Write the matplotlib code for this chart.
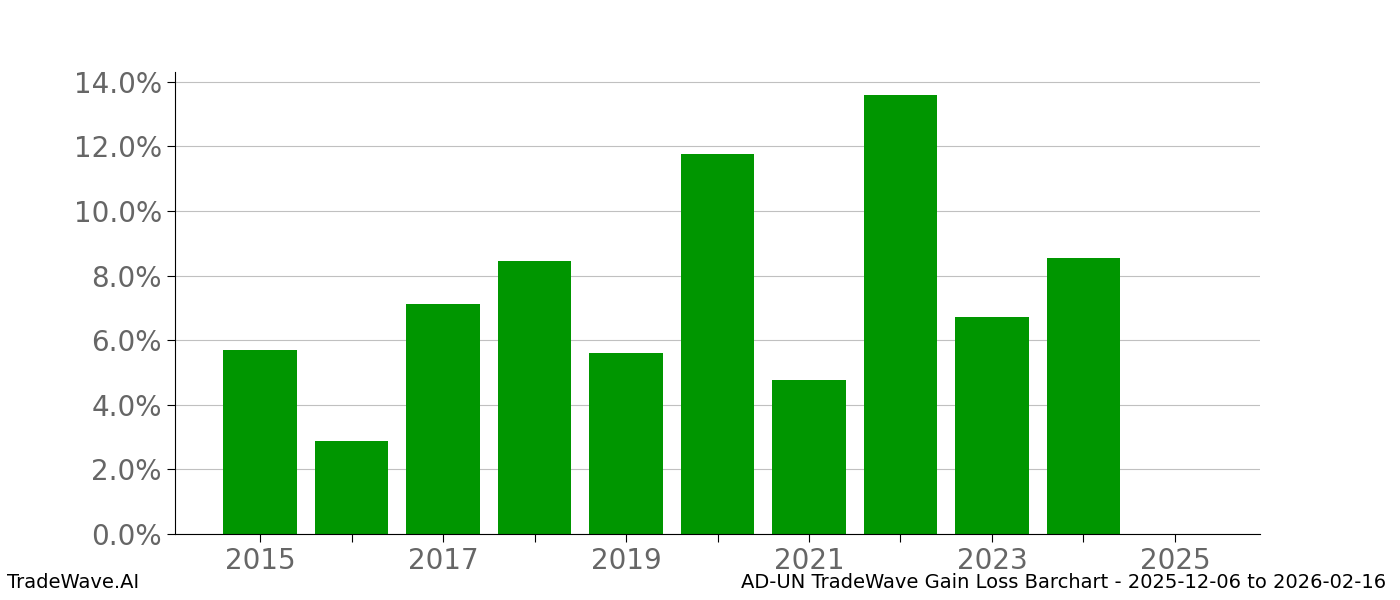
import matplotlib
matplotlib.use("Agg")
import matplotlib.pyplot as plt
from matplotlib.ticker import FuncFormatter, MultipleLocator

years = [2015, 2016, 2017, 2018, 2019, 2020, 2021, 2022, 2023, 2024, 2025]
gains = [5.69, 2.87, 7.11, 8.44, 5.59, 11.77, 4.76, 13.60, 6.71, 8.53, 0.0]

fig = plt.figure(figsize=(14, 6), dpi=100)
ax = fig.add_axes([0.125, 0.11, 0.775, 0.77])
ax.bar(years, gains, width=0.8, color="#009600", zorder=2)
ax.set_xlim(2014.07, 2025.93)
ax.set_ylim(0, 14.3)
ax.yaxis.set_major_locator(MultipleLocator(2))
ax.yaxis.set_major_formatter(FuncFormatter(lambda v, p: f"{v:.1f}%"))
ax.set_xticks(years)
ax.set_xticklabels([str(y) if (y - 2015) % 2 == 0 else "" for y in years])
ax.grid(axis="y", color="#c0c0c0", linewidth=0.8, zorder=0)
ax.tick_params(labelsize=20, labelcolor="#666666", length=6)
for s in ["top", "right"]:
    ax.spines[s].set_visible(False)
fig.text(0.005, 0.02, "TradeWave.AI", fontsize=14, ha="left")
fig.text(0.99, 0.02, "AD-UN TradeWave Gain Loss Barchart - 2025-12-06 to 2026-02-16", fontsize=14, ha="right")
fig.savefig("out.png", dpi=100)
